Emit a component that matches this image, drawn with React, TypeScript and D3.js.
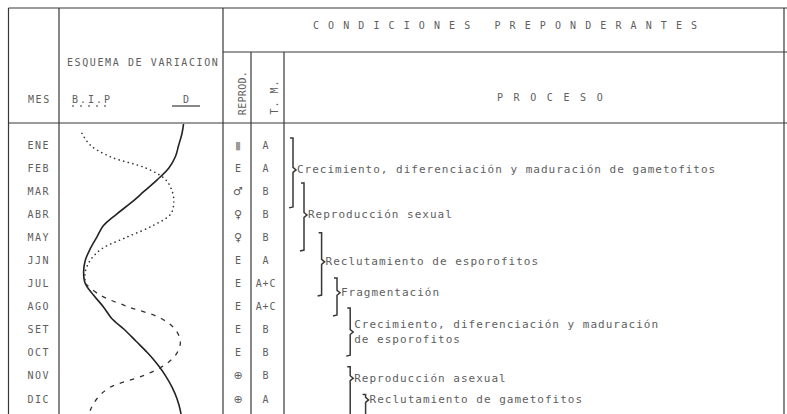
import React from "react";
import * as d3 from "d3";

// ---- data ----
const months = ["ENE", "FEB", "MAR", "ABR", "MAY", "JJN", "JUL", "AGO", "SET", "OCT", "NOV", "DIC"];
const reprod = ["▮", "E", "♂", "♀", "♀", "E", "E", "E", "E", "E", "⊕", "⊕"];
const tm = ["A", "A", "B", "B", "B", "A", "A+C", "A+C", "B", "B", "B", "A"];

// B.I.P (dotted / dashed) — position in month index, relative value 0-100
const bipPos = [-0.5, 0, 0.5, 1, 1.5, 2, 2.5, 3, 3.5, 4, 4.5, 5, 5.5, 6, 6.5, 7, 7.5, 8, 8.5, 9, 9.5, 10, 10.5, 11, 11.5, 12];
const bipVal = [14, 19, 31, 53, 65, 69, 70, 68, 57, 41, 26, 19, 16, 16, 25, 42, 62, 71, 74, 72, 65, 51, 31, 23, 19, 17];

// D (solid)
const dPos = [-0.95, -0.5, 0, 0.5, 1, 1.5, 2, 2.5, 3, 3.5, 4, 4.5, 5, 5.5, 6, 6.5, 7, 7.5, 8, 8.5, 9, 9.5, 10, 10.5, 11, 11.5, 12];
const dVal = [76, 75, 73, 71, 67, 60, 52, 44, 35, 27, 23, 19, 16, 15, 16, 21, 27, 32, 40, 47, 54, 60, 65, 69, 72, 74, 75];

// processes (brackets)
const procLabels = [
  ["Crecimiento, diferenciación y maduración de gametofitos"],
  ["Reproducción sexual"],
  ["Reclutamiento de esporofitos"],
  ["Fragmentación"],
  ["Crecimiento, diferenciación y maduración", "de esporofitos"],
  ["Reproducción asexual"],
  ["Reclutamiento de gametofitos"],
];
const procStart = [-0.3, 1.65, 3.8, 5.76, 7.06, 9.6, 10.8];
const procEnd = [2.68, 4.55, 6.5, 7.36, 9.1, 12.5, 12.5];
const procTip = [1.08, 3.03, 5.06, 6.4, 8.1, 10.1, 11.04];
const procLevel = [0, 1, 2.6, 4, 5.2, 5.2, 6.6];

export default function App() {
  const W = 787, H = 414;
  const xL = 8.5, xMes = 59, xEsq = 223, xRep = 251, xTm = 284, xR = 784;
  const yTop = 8, yMid = 52, yHead = 123;

  const y = d3.scaleLinear().domain([0, 11]).range([145, 399]);
  const xv = d3.scaleLinear().domain([0, 100]).range([xMes, xEsq]);
  const xlev = d3.scaleLinear().domain([0, 1]).range([293, 304]);

  const line = d3
    .line<[number, number]>()
    .x((d) => xv(d[1]))
    .y((d) => y(d[0]))
    .curve(d3.curveCatmullRom.alpha(0.5));

  const bip = bipPos.map((p, i) => [p, bipVal[i]] as [number, number]);
  const bipDot = bip.filter((d) => d[0] <= 6);
  const bipDash = bip.filter((d) => d[0] >= 6);
  const dLine = dPos.map((p, i) => [p, dVal[i]] as [number, number]);

  const ink = "#383838";
  const txt = "#5e5e5e";
  const mono = "'DejaVu Sans Mono', 'Liberation Mono', monospace";

  return (
    <svg
      width={W}
      height={H}
      style={{ position: "fixed", left: 0, top: 0, background: "#fff" }}
      fontFamily={mono}
    >
      <rect x={0} y={0} width={W} height={H} fill="#fff" />
      <defs>
        <clipPath id="esq">
          <rect x={xMes + 1} y={yHead + 1} width={xEsq - xMes - 2} height={H} />
        </clipPath>
      </defs>
      {/* frame lines */}
      <g stroke={ink} strokeWidth={1.2} fill="none">
        <line x1={xL} y1={yTop} x2={W} y2={yTop} />
        <line x1={xEsq} y1={yMid} x2={W} y2={yMid} />
        <line x1={xL} y1={yHead} x2={W} y2={yHead} />
        <line x1={xL} y1={yTop} x2={xL} y2={H} />
        <line x1={xMes} y1={yTop} x2={xMes} y2={H} />
        <line x1={xEsq} y1={yTop} x2={xEsq} y2={H} />
        <line x1={xRep} y1={yMid} x2={xRep} y2={H} />
        <line x1={xTm} y1={yMid} x2={xTm} y2={H} />
        <line x1={xR} y1={yTop} x2={xR} y2={H} />
      </g>

      {/* headers */}
      <g fill={txt} fontSize={10}>
        <text x={313} y={25} dominantBaseline="central" letterSpacing={9.1}>
          CONDICIONES PREPONDERANTES
        </text>
        <text x={497} y={97} dominantBaseline="central" letterSpacing={10.6}>
          PROCESO
        </text>
        <text x={67} y={62} dominantBaseline="central" letterSpacing={1.6}>
          ESQUEMA DE VARIACION
        </text>
        <text x={28} y={99} dominantBaseline="central" letterSpacing={1.6}>
          MES
        </text>
        <text x={72} y={99} dominantBaseline="central" letterSpacing={2}>
          B.I.P
        </text>
        <text x={186} y={99} dominantBaseline="central" textAnchor="middle">
          D
        </text>
        <text
          transform={`translate(242,93) rotate(-90)`}
          textAnchor="middle"
          dominantBaseline="central"
          letterSpacing={0.3}
        >
          REPROD.
        </text>
        <text
          transform={`translate(274,97) rotate(-90)`}
          textAnchor="middle"
          dominantBaseline="central"
          letterSpacing={1}
        >
          T. M.
        </text>
      </g>
      {/* legend underlines */}
      <line x1={72} y1={106} x2={108} y2={106} stroke={ink} strokeWidth={1.2} strokeDasharray="2 6" />
      <line x1={172} y1={106} x2={200} y2={106} stroke={ink} strokeWidth={1.2} />

      {/* rows */}
      <g fill={txt} fontSize={10}>
        {months.map((m, i) => (
          <text key={m} x={38.75} y={y(i)} textAnchor="middle" dominantBaseline="central" letterSpacing={1.5}>
            {m}
          </text>
        ))}
        {reprod.map((r, i) => (
          <text
            key={"r" + i}
            x={238}
            y={y(i)}
            textAnchor="middle"
            dominantBaseline="central"
            fontSize={r === "E" ? 10 : 11}
            fill={r === "▮" ? "#999" : txt}
            fontFamily={r === "E" ? mono : "'DejaVu Sans', sans-serif"}
          >
            {r}
          </text>
        ))}
        {tm.map((t, i) => (
          <text key={"t" + i} x={266} y={y(i)} textAnchor="middle" dominantBaseline="central" letterSpacing={0.8}>
            {t}
          </text>
        ))}
      </g>

      {/* curves */}
      <g clipPath="url(#esq)" fill="none">
        <path d={line(dLine) || ""} stroke="#222" strokeWidth={1.6} />
        <path
          d={line(bipDot) || ""}
          stroke="#333"
          strokeWidth={1.6}
          strokeLinecap="round"
          strokeDasharray="0.1 4.6"
        />
        <path d={line(bipDash) || ""} stroke="#333" strokeWidth={1.3} strokeDasharray="4.5 6" />
      </g>

      {/* process brackets */}
      <g>
        {procLabels.map((lines, i) => {
          const x = xlev(procLevel[i]);
          const y0 = y(procStart[i]);
          const y1 = y(procEnd[i]);
          const ym = y(procTip[i]);
          const p = `M${x - 3},${y0} L${x},${y0} L${x},${ym - 2.5} L${x + 3},${ym} L${x},${ym + 2.5} L${x},${y1} L${x - 4},${y1 + 1}`;
          return (
            <g key={"p" + i}>
              <path d={p} fill="none" stroke={ink} strokeWidth={1.5} />
              {lines.map((l, j) => (
                <text
                  key={j}
                  x={x + 4}
                  y={ym + (j - (lines.length - 1) / 2) * 15}
                  dominantBaseline="central"
                  fontSize={11}
                  letterSpacing={1}
                  fill={txt}
                >
                  {l}
                </text>
              ))}
            </g>
          );
        })}
      </g>
    </svg>
  );
}
